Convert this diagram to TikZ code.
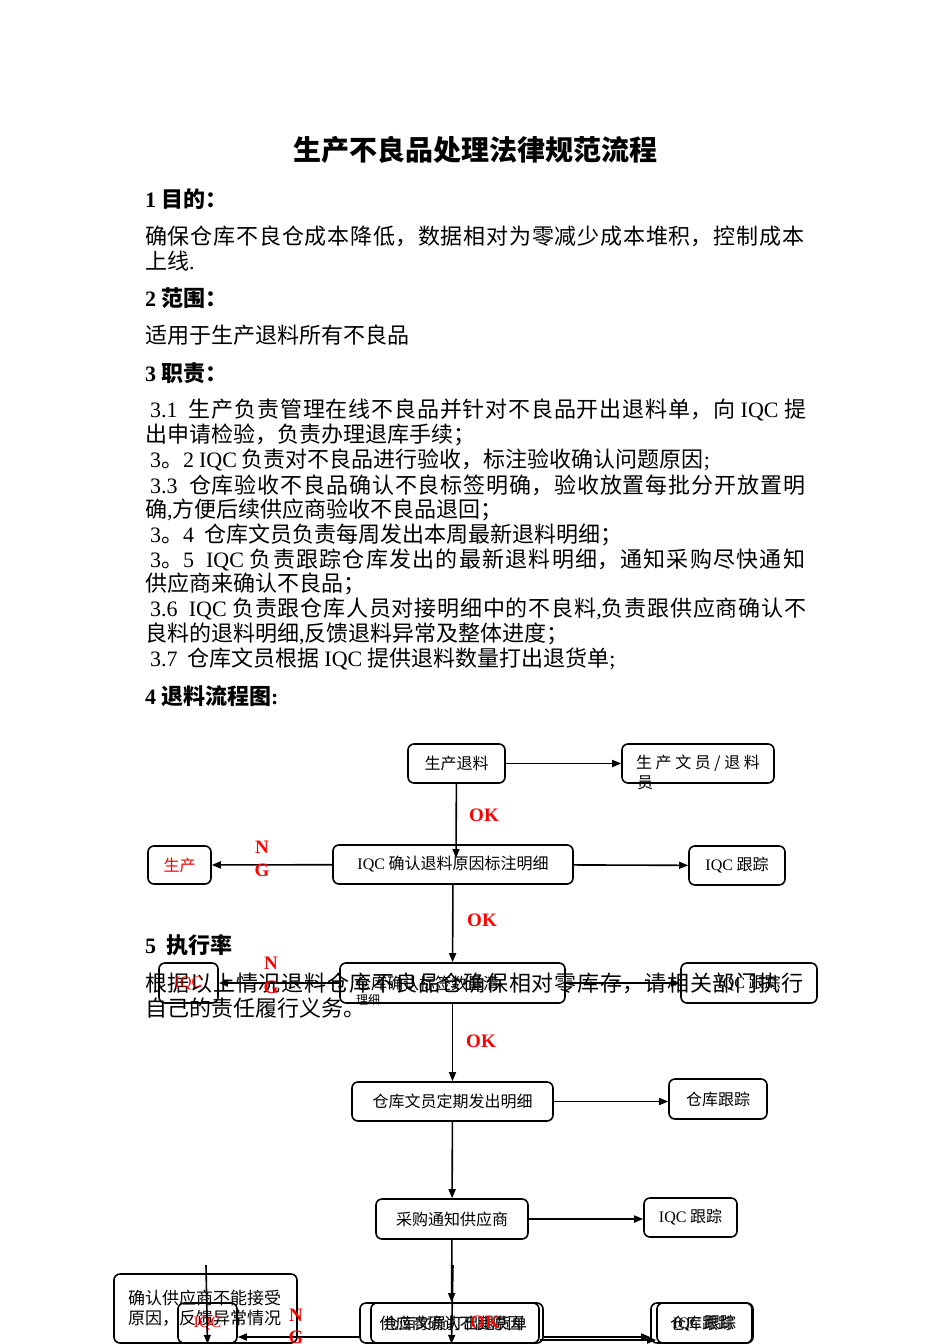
\documentclass[tikz,border=0pt]{standalone}
\usepackage{fontspec}
\setmainfont{Noto Sans CJK SC}
\newfontfamily\lat{Liberation Serif}
\newcommand\en[1]{{\lat #1}}
\newcommand\jl[2]{\parbox{#1}{\parindent=0pt\parfillskip=0pt #2\par}}
\usetikzlibrary{arrows.meta}
\XeTeXlinebreaklocale "zh"
\XeTeXlinebreakskip=0pt plus 3pt

\tikzset{
  txt/.style={anchor=west, inner sep=0pt, font=\fontsize{22}{25}\selectfont},
  hd/.style={txt, font=\fontsize{22}{25}\selectfont\bfseries},
  box/.style={draw, rounded corners=6pt, line width=1.6pt, inner sep=0pt, font=\fontsize{16}{19}\selectfont},
  arr/.style={-{Triangle[length=9pt,width=7pt]}, line width=1.6pt},
  tag/.style={text=red, inner sep=0pt, font=\lat\bfseries\fontsize{19}{19}\selectfont},
}

\begin{document}
\begin{tikzpicture}[x=1pt,y=-1pt]
\useasboundingbox (0,0) rectangle (950,1344);
\clip (0,0) rectangle (950,1344);

% text of the page
\node[hd, anchor=center, font=\fontsize{28}{30}\selectfont\bfseries] (title) at (475,150) {生产不良品处理法律规范流程};
\node[hd] (h1) at (145,199) {\en{1} 目的：};
\node[txt] (p1a) at (145,236) {\jl{659pt}{确保仓库不良仓成本降低，数据相对为零减少成本堆积，控制成本}};
\node[txt] (p1b) at (145,261) {上线\en{.}};
\node[hd] (h2) at (145,298) {\en{2} 范围：};
\node[txt] (p2) at (145,335) {适用于生产退料所有不良品};
\node[hd] (h3) at (145,373) {\en{3} 职责：};
\node[txt] (r1a) at (150,410) {\jl{656pt}{\en{3.1}\ \ 生产负责管理在线不良品并针对不良品开出退料单，向 \en{IQC} 提}};
\node[txt] (r1b) at (145,435) {出申请检验，负责办理退库手续；};
\node[txt] (r2) at (150,460) {\en{3}。\en{2} \en{IQC} 负责对不良品进行验收，标注验收确认问题原因\en{;}};
\node[txt] (r3a) at (150,485) {\jl{655pt}{\en{3.3}\ \ 仓库验收不良品确认不良标签明确，验收放置每批分开放置明}};
\node[txt] (r3b) at (145,510) {确\en{,}方便后续供应商验收不良品退回；};
\node[txt] (r4) at (150,535) {\en{3}。\en{4}\ \ 仓库文员负责每周发出本周最新退料明细；};
\node[txt] (r5a) at (150,560) {\jl{655pt}{\en{3}。\en{5}\ \ \en{IQC} 负责跟踪仓库发出的最新退料明细，通知采购尽快通知}};
\node[txt] (r5b) at (145,584) {供应商来确认不良品；};
\node[txt] (r6a) at (150,609) {\jl{656pt}{\en{3.6}\ \ \en{IQC} 负责跟仓库人员对接明细中的不良料\en{,}负责跟供应商确认不}};
\node[txt] (r6b) at (145,634) {良料的退料明细\en{,}反馈退料异常及整体进度；};
\node[txt] (r7) at (150,659) {\en{3.7}\ \ 仓库文员根据 \en{IQC} 提供退料数量打出退货单\en{;}};
\node[hd] (h4) at (145,696) {\en{4} 退料流程图\en{:}};
\node[hd] (h5) at (145,945) {\en{5}\ \ 执行率};
\node[txt] (p5a) at (145,983) {\jl{658pt}{根据以上情况退料仓库不良品仓确保相对零库存，请相关部门执行}};
\node[txt] (p5b) at (145,1008) {自己的责任履行义务。};

% flow chart boxes
\node[box, minimum width=97pt, minimum height=39pt] (A) at (456.5,763.5) {生产退料};
\node[box, minimum width=152pt, minimum height=39pt] (B) at (698,763.5) {生 产 文 员 / 退 料};
\node[inner sep=0pt, font=\fontsize{16}{19}\selectfont] (B2) at (645,783) {员};
\node[box, minimum width=240pt, minimum height=39pt] (C) at (453,864.5) {\en{IQC} 确认退料原因标注明细};
\node[box, minimum width=63pt, minimum height=38pt, text=red] (D) at (179.5,865) {生产};
\node[box, minimum width=96pt, minimum height=39pt] (E) at (737,865.5) {\en{IQC} 跟踪};
\node[box, minimum width=225pt, minimum height=40pt, text width=195pt, align=left] (F) at (452.5,983) {仓库确认标签数量清};
\node[inner sep=0pt, font=\fontsize{12}{14}\selectfont] (F2) at (368,1000) {理细};
\node[box, minimum width=59pt, minimum height=40pt, text=red] (G) at (188.5,983) {\en{IQC}};
\node[box, minimum width=136pt, minimum height=40pt] (H) at (749,983) {\en{IQC} 跟踪};
\node[box, minimum width=201pt, minimum height=39pt] (I) at (452.5,1101.5) {仓库文员定期发出明细};
\node[box, minimum width=98pt, minimum height=40pt] (J) at (718,1099) {仓库跟踪};
\node[box, minimum width=152pt, minimum height=40pt] (K) at (452,1219) {采购通知供应商};
\node[box, minimum width=93pt, minimum height=39pt] (L) at (690.5,1217.5) {\en{IQC} 跟踪};
\node[box, minimum width=183pt, minimum height=69pt, text width=155pt, align=left, font=\fontsize{17}{20}\selectfont] (N) at (205.5,1308.5) {确认供应商不能接受\\原因，反馈异常情况};
\node[box, minimum width=59pt, minimum height=40pt, text=red] (O) at (207.5,1323) {\en{IQC}};
\node[box, minimum width=183pt, minimum height=40pt] (M) at (451.5,1323) {供应商确认不良原因};
\node[box, minimum width=168pt, minimum height=40pt] (M2) at (455,1323) {仓库文员打出退货单};
\node[box, minimum width=102pt, minimum height=40pt] (P) at (702,1323) {仓库跟踪};
\node[box, minimum width=95pt, minimum height=40pt] (P2) at (704.5,1323) {\en{IQC} 跟踪};

% free ends
\coordinate (c1) at (456,858);
\coordinate (s1) at (206,1265);
\coordinate (s2) at (453,1265);

% connectors
\draw[arr] (A) -- (B);
\draw[arr] (A) -- (c1);
\draw[arr] (C) -- (D);
\draw[arr] (C) -- (E);
\draw[arr] (C) -- (F);
\draw[arr] (F) -- (G);
\draw[arr] (F) -- (H);
\draw[arr] (F) -- (I);
\draw[arr] (I.east) -- (I.east -| J.west);
\draw[arr] (I) -- (K);
\draw[arr] (K.east) -- (K.east -| L.west);
\draw[arr] (K) -- (M);
\draw[arr] (s2) -- (M.south);
\draw[arr] (s1) -- (O.south);
\draw[arr] ([yshift=-14pt]M.west) -- ([yshift=-14pt]O.east);
\draw[arr] ([yshift=-14pt]M.east) -- ([yshift=-14pt]P.west);
\draw[arr] ([yshift=-17pt]M2.east) -- ([yshift=-17pt]P2.west);

% labels
\node[tag] (ok1) at (484,815) {OK};
\node[tag] (ok2) at (482,920) {OK};
\node[tag] (ok3) at (481,1041) {OK};
\node[tag] (ok4) at (485,1322) {OK};
\node[tag] (n1) at (262,847) {N};
\node[tag] (g1) at (262,870) {G};
\node[tag] (n2) at (271,963) {N};
\node[tag] (g2) at (271,987) {G};
\node[tag] (n3) at (296,1315) {N};
\node[tag] (g3) at (296,1337) {G};
\end{tikzpicture}
\end{document}
